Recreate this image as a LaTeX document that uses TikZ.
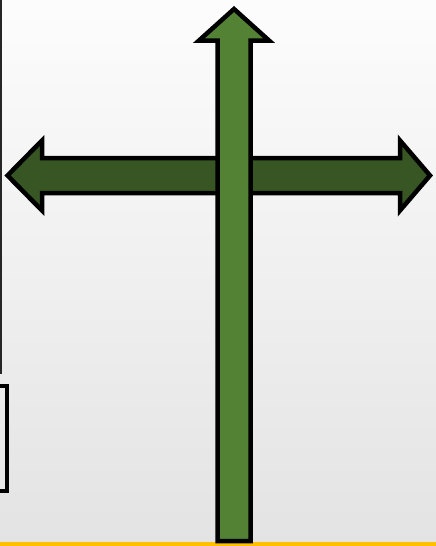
\documentclass[tikz,border=0pt]{standalone}
\usepackage{xcolor}
\usepackage{tikz}
\definecolor{crossgreen}{HTML}{548235}
\definecolor{beamgreen}{HTML}{375623}
\definecolor{baseyellow}{HTML}{FFC000}

\begin{document}
\begin{tikzpicture}[x=1pt, y=-1pt,
    arrowshape/.style={draw=black, line width=4.5pt, line join=miter},
    frameline/.style={draw=black!85, line width=2.5pt}]
        \useasboundingbox (0,0) rectangle (436,546);
        \clip (0,0) rectangle (436,546);
        \shade[top color=white!99!black, bottom color=black!11] (0,0) rectangle (436,546);
        % left edge and small box
        \draw[frameline] (1,-2) -- (1,374);
        \draw[frameline, draw=black, line width=4pt] (-6,386) rectangle (6.5,491);
        \fill[baseyellow] (0,542) rectangle (436,548);
        % horizontal double arrow
        \draw[arrowshape, fill=beamgreen]
            (7.5,175.5) -- (42,140.5) -- (42,158) -- (400,158) -- (400,140.5)
            -- (430,175.5) -- (400,210.5) -- (400,193) -- (42,193) -- (42,210.5) -- cycle;
        % vertical arrow
        \draw[arrowshape, fill=crossgreen]
            (234,9) -- (269,40.5) -- (250.5,40.5) -- (250.5,541) -- (217.5,541)
            -- (217.5,40.5) -- (199,40.5) -- cycle;
    \end{tikzpicture}
\end{document}
